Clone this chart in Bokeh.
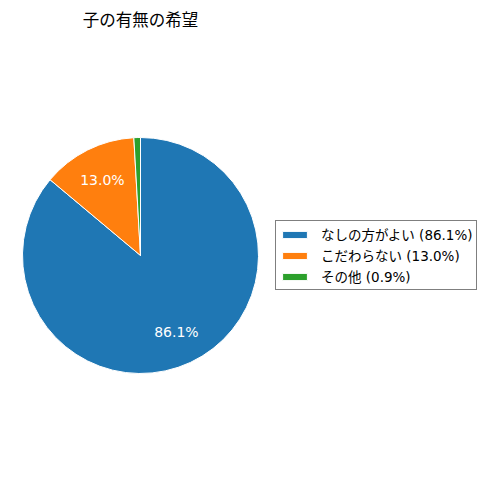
import math
from bokeh.plotting import figure
from bokeh.models import ColumnDataSource, Range1d, Legend, LegendItem, Label
from bokeh.core.properties import value
from bokeh.embed import file_html
from bokeh.resources import INLINE

title_text = "子の有無の希望"
categories = ["なしの方がよい", "こだわらない", "その他"]
values = [86.1, 13.0, 0.9]
colors = ["#1f77b4", "#ff7f0e", "#2ca02c"]

W, H = 480, 474
p = figure(width=W, height=H, output_backend="svg", toolbar_location=None,
           x_range=Range1d(0, W), y_range=Range1d(490 - H, 490),
           min_border=0, border_fill_color="white", outline_line_color=None)
p.axis.visible = False
p.grid.visible = False

cx, cy, r = 140, 490 - 255, 118
total = sum(values)
starts, ends, lx, ly, pct = [], [], [], [], []
cum = 0.0
for v in values:
    a0 = math.pi / 2 - 2 * math.pi * cum / total
    cum += v
    a1 = math.pi / 2 - 2 * math.pi * cum / total
    starts.append(a0)
    ends.append(a1)
    mid = (a0 + a1) / 2
    lx.append(cx + 0.72 * r * math.cos(mid))
    ly.append(cy + 0.72 * r * math.sin(mid))
    pct.append(f"{v:.1f}%")

src = ColumnDataSource(dict(start=starts, end=ends, color=colors))
wedges = p.wedge(x=cx, y=cy, radius=r, start_angle="start", end_angle="end",
                 direction="clock", fill_color="color", line_color="white",
                 line_width=1, source=src)

lsrc = ColumnDataSource(dict(x=lx[:2], y=ly[:2], t=pct[:2]))
p.text(x="x", y="y", text="t", source=lsrc, text_color="white",
       text_font=value("DejaVu Sans"), text_font_size="14px",
       text_align="center", text_baseline="middle")

items = [LegendItem(label=f"{c} ({v:.1f}%)", renderers=[wedges], index=i)
         for i, (c, v) in enumerate(zip(categories, values))]
legend = Legend(items=items, location=(275, 184), margin=0, padding=3,
                spacing=1, glyph_width=31, glyph_height=9, label_height=17,
                label_standoff=11, label_text_font="DejaVu Sans, Noto Sans CJK JP",
                label_text_font_size="13.5px", label_text_color="black",
                border_line_color="black", border_line_width=1.2,
                background_fill_color="white", background_fill_alpha=1)
p.add_layout(legend, "center")

p.add_layout(Label(x=140, y=490 - 18, text=title_text, text_align="center",
                   text_baseline="middle", text_font="Noto Sans CJK JP",
                   text_font_size="16.5px", text_color="black"))

open("out.html", "w").write(file_html(p, INLINE))
